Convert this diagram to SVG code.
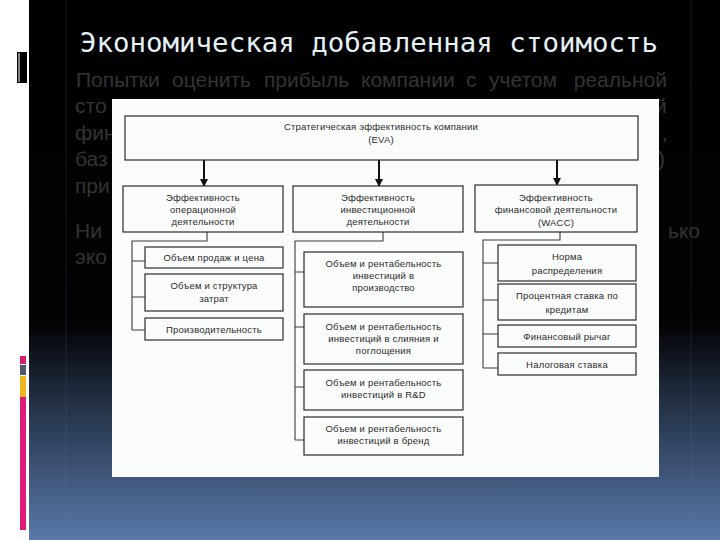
<svg xmlns="http://www.w3.org/2000/svg" width="720" height="540" viewBox="0 0 720 540">
<defs>
<linearGradient id="bg" x1="0" y1="0" x2="0" y2="1">
<stop offset="0" stop-color="#000000"/>
<stop offset="0.6" stop-color="#030305"/>
<stop offset="0.76" stop-color="#26344a"/>
<stop offset="1" stop-color="#5a78a8"/>
</linearGradient>
<marker id="arr" viewBox="0 0 8 8" refX="7" refY="4" markerWidth="8" markerHeight="8" markerUnits="userSpaceOnUse" orient="auto">
<path d="M0,0 L8,4 L0,8 z" fill="#111"/>
</marker>
<style>
.body{font-family:"Liberation Sans",Arial,sans-serif;font-size:21px;fill:#333333}
.box{fill:#fbfdfd;stroke:#2a2a2a;stroke-width:1.2}
.t{font-family:"Liberation Sans",Arial,sans-serif;font-size:9.5px;fill:#2a2a2a;text-anchor:middle;letter-spacing:0.2px}
.arrow{stroke:#111;stroke-width:2;fill:none}
.br{stroke:#3a3a3a;stroke-width:1.1;fill:none}
</style>
</defs>
<!-- background -->
<rect x="0" y="0" width="720" height="540" fill="#ffffff"/>
<rect x="29" y="0" width="691" height="540" fill="url(#bg)"/>
<rect x="66" y="-2" width="625" height="524" fill="none" stroke="#7a93bb" stroke-opacity="0.1" stroke-width="1.5"/>
<!-- left decorations -->
<rect x="17" y="52" width="10" height="31" fill="#000"/>
<rect x="18.5" y="53" width="1" height="29" fill="#ffffff"/>
<rect x="20" y="356" width="6" height="8" fill="#d81e6e"/>
<rect x="20" y="365" width="6" height="10" fill="#4f5b6a"/>
<rect x="20" y="376" width="6" height="21" fill="#efb51f"/>
<rect x="20" y="397" width="6" height="133" fill="#e01a78"/>
<!-- title -->
<text x="80" y="52" font-family="DejaVu Sans Mono,Liberation Mono,monospace" font-size="26" fill="#e4f1f6" textLength="578" lengthAdjust="spacingAndGlyphs">Экономическая добавленная стоимость</text>
<!-- body text (partially hidden) -->
<g class="body">
<text x="76" y="87">Попытки</text>
<text x="172" y="87">оценить</text>
<text x="264" y="87">прибыль</text>
<text x="361" y="87">компании</text>
<text x="466" y="87">с</text>
<text x="489" y="87">учетом</text>
<text x="667" y="87" text-anchor="end">реальной</text>
<text x="75" y="113">сто</text>
<text x="655" y="113">й</text>
<text x="75" y="140">фин</text>
<text x="662" y="140">,</text>
<text x="75" y="166">баз</text>
<text x="658" y="166">)</text>
<text x="75" y="193">при</text>
<text x="75" y="238">Ни</text>
<text x="700" y="238" text-anchor="end">ько</text>
<text x="75" y="264">эко</text>
</g>
<!-- picture -->
<rect x="112" y="99" width="547" height="378" fill="#fbfdfd"/>
<g id="connectors">
<line class="arrow" x1="204" y1="160" x2="204" y2="186" marker-end="url(#arr)"/>
<line class="arrow" x1="379" y1="160" x2="379" y2="186" marker-end="url(#arr)"/>
<line class="arrow" x1="557" y1="160" x2="557" y2="185" marker-end="url(#arr)"/>
<path class="br" d="M207,232 V241 H132 V330 M132,261 H145 M132,297 H145 M132,330 H145"/>
<path class="br" d="M383,232 V241 H295 V440 M295,272 H304 M295,327 H304 M295,387 H304 M295,440 H304"/>
<path class="br" d="M560,232 V240 H483 V368 M483,263 H498 M483,300 H498 M483,334 H498 M483,368 H498"/>
</g>
<g id="top">
<rect class="box" x="125" y="116" width="513" height="44"/>
<text class="t" x="381" y="129.5">Стратегическая эффективность компании</text>
<text class="t" x="381" y="142.5">(EVA)</text>
</g>
<g id="opA">
<rect class="box" x="123" y="186" width="160" height="46"/>
<text class="t" x="203" y="200.5">Эффективность</text>
<text class="t" x="203" y="212.5">операционной</text>
<text class="t" x="203" y="224.5">деятельности</text>
</g>
<g id="invB">
<rect class="box" x="293" y="186" width="170" height="46"/>
<text class="t" x="378" y="200.5">Эффективность</text>
<text class="t" x="378" y="212.5">инвестиционной</text>
<text class="t" x="378" y="224.5">деятельности</text>
</g>
<g id="finC">
<rect class="box" x="475" y="185" width="162" height="47"/>
<text class="t" x="556" y="200.5">Эффективность</text>
<text class="t" x="556" y="212.5">финансовой деятельности</text>
<text class="t" x="556" y="225.5">(WACC)</text>
</g>
<g id="a1">
<rect class="box" x="145" y="247" width="138" height="21"/>
<text class="t" x="214" y="261">Объем продаж и цена</text>
</g>
<g id="a2">
<rect class="box" x="145" y="274" width="138" height="37"/>
<text class="t" x="214" y="289">Объем и структура</text>
<text class="t" x="214" y="302">затрат</text>
</g>
<g id="a3">
<rect class="box" x="145" y="318" width="138" height="22"/>
<text class="t" x="214" y="332.5">Производительность</text>
</g>
<g id="b1">
<rect class="box" x="304" y="252" width="159" height="55"/>
<text class="t" x="383.5" y="267">Объем и рентабельность</text>
<text class="t" x="383.5" y="279">инвестиций в</text>
<text class="t" x="383.5" y="291">производство</text>
</g>
<g id="b2">
<rect class="box" x="304" y="314" width="159" height="50"/>
<text class="t" x="383.5" y="329.5">Объем и рентабельность</text>
<text class="t" x="383.5" y="341.5">инвестиций в слияния и</text>
<text class="t" x="383.5" y="353.5">поглощения</text>
</g>
<g id="b3">
<rect class="box" x="304" y="370" width="159" height="40"/>
<text class="t" x="383.5" y="385.5">Объем и рентабельность</text>
<text class="t" x="383.5" y="397.5">инвестиций в R&amp;D</text>
</g>
<g id="b4">
<rect class="box" x="304" y="417" width="159" height="38"/>
<text class="t" x="383.5" y="431.5">Объем и рентабельность</text>
<text class="t" x="383.5" y="443.5">инвестиций в бренд</text>
</g>
<g id="c1">
<rect class="box" x="498" y="245" width="138" height="36"/>
<text class="t" x="567" y="259.5">Норма</text>
<text class="t" x="567" y="274">распределения</text>
</g>
<g id="c2">
<rect class="box" x="498" y="284" width="138" height="36"/>
<text class="t" x="567" y="298.5">Процентная ставка по</text>
<text class="t" x="567" y="313">кредитам</text>
</g>
<g id="c3">
<rect class="box" x="498" y="325" width="138" height="22"/>
<text class="t" x="567" y="340">Финансовый рычаг</text>
</g>
<g id="c4">
<rect class="box" x="498" y="353" width="138" height="22"/>
<text class="t" x="567" y="368">Налоговая ставка</text>
</g>
</svg>
